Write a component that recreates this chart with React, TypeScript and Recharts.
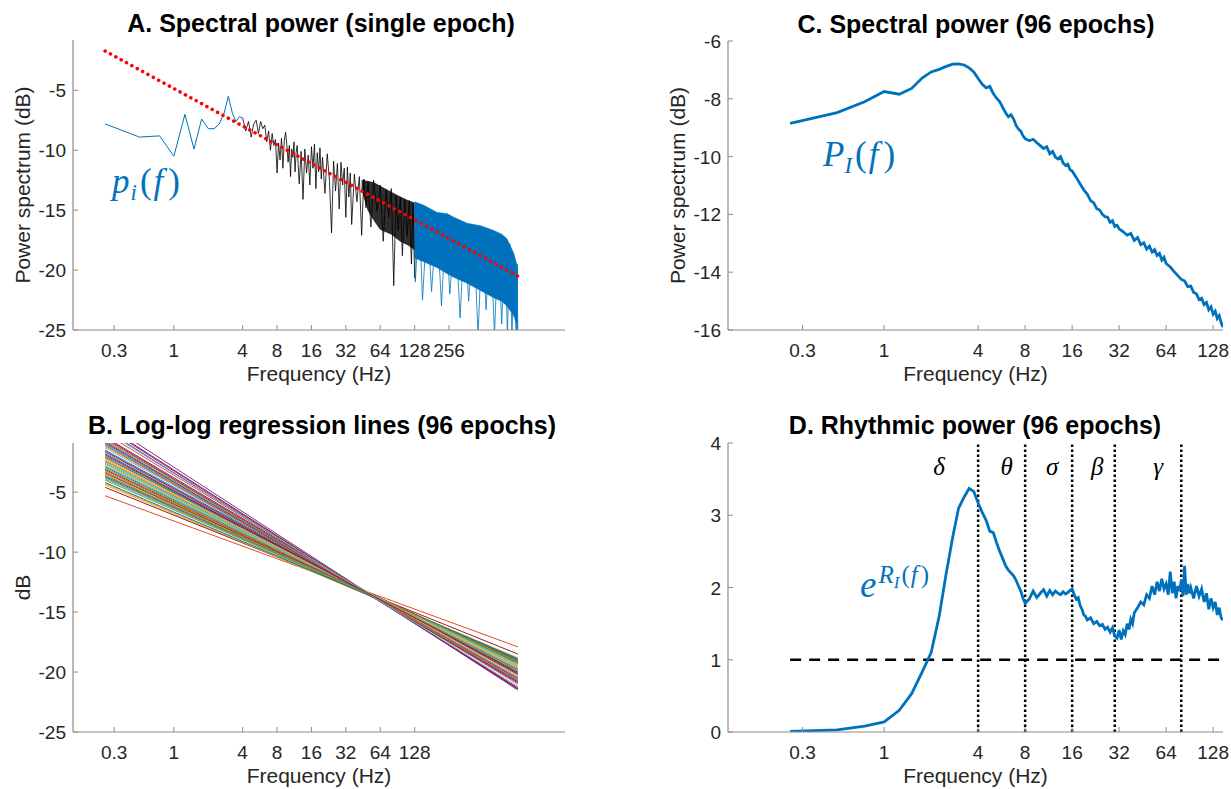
import React from 'react';
import { ComposedChart, Line, Area, XAxis, YAxis, ReferenceLine, ReferenceDot } from 'recharts';

// ---- panel A: one epoch spectrum (Hz, dB) ----
const epochLow: [number, number][] = [
  [0.25, -7.8], [0.5, -8.9], [0.75, -8.8], [1, -10.5], [1.25, -7.0], [1.5, -9.9], [1.75, -7.4],
  [2, -8.2], [2.25, -8.2], [2.5, -7.8], [2.75, -6.9], [3, -5.5], [3.25, -6.9], [3.5, -7.6],
  [3.75, -7.2], [4, -7.3],
];

const epochMid: [number, number][] = [
  [4, -7.3], [4.25, -8.4], [4.5, -7.6], [4.75, -8.9], [5, -7.8], [5.25, -7.5], [5.5, -8.6],
  [5.75, -7.6], [6, -8.2], [6.25, -7.9], [6.5, -9.3], [6.75, -8.4], [7, -10.0], [7.25, -8.6],
  [7.5, -9.6], [7.75, -9.1], [8, -11.9], [8.25, -9.4], [8.5, -10.8], [8.75, -9.0], [9, -11.5],
  [9.25, -9.2], [9.5, -8.5], [9.75, -9.6], [10, -11.0], [10.25, -9.6], [10.5, -12.2], [10.75, -9.9],
  [11, -10.6], [11.25, -9.3], [11.5, -11.8], [11.75, -10.2], [12, -9.6], [12.5, -12.8], [13, -10.1],
  [13.5, -14.1], [14, -9.9], [14.5, -11.9], [15, -10.4], [15.5, -12.9], [16, -9.7], [16.5, -11.5],
  [17, -9.5], [17.5, -13.2], [18, -10.2], [18.5, -11.8], [19, -9.8], [19.5, -12.4], [20, -10.6],
  [21, -13.6], [22, -10.3], [23, -12.5], [24, -16.9], [25, -10.9], [26, -13.4], [27, -11.1],
  [28, -14.9], [29, -11.0], [30, -12.9], [31, -11.5], [32, -15.6], [33, -11.4], [34, -13.9],
  [35, -11.9], [36, -16.2], [38, -12.0], [40, -14.3], [42, -12.2], [44, -17.1], [46, -12.4],
  [48, -14.8], [50, -12.6], [53, -16.4], [56, -12.5], [60, -15.1], [64, -12.9], [68, -17.6],
  [72, -13.3], [76, -15.6], [80, -13.2], [84, -21.3], [88, -13.8], [92, -16.7], [96, -13.9],
  [100, -18.8], [105, -14.1], [110, -17.2], [115, -14.2], [120, -19.5], [124, -14.5], [128, -20.7],
];

// dense part of the spectrum: [Hz, low dB, high dB]
const epochBlackBand: [number, number, number][] = [
  [44, -13.2, -12.5], [50, -15.0, -12.6], [56, -15.8, -12.7], [64, -16.6, -13.0], [80, -17.0, -13.5],
  [96, -17.6, -13.9], [112, -17.9, -14.2], [128, -18.3, -14.4],
];

const epochBlueBand: [number, number, number][] = [
  [128, -19.0, -14.3], [154, -19.3, -14.6], [202, -19.8, -15.2], [247, -20.3, -15.3],
  [282, -20.6, -15.6], [369, -21.1, -16.1], [483, -21.7, -16.3], [630, -22.3, -16.7],
  [740, -22.6, -17.0], [824, -23.0, -17.4], [942, -23.8, -18.6], [1000, -24.5, -19.5],
  [1024, -25.5, -20.0],
];

const epochBlueSpikes: [number, number][] = [
  [128, -14.4], [130, -21.0], [140, -15.0], [150, -22.5], [165, -15.5], [180, -21.8], [200, -15.4],
  [220, -23.0], [240, -15.8], [260, -22.0], [290, -16.0], [320, -24.0], [350, -16.3], [380, -22.6],
  [420, -16.4], [460, -25.5], [500, -16.6], [540, -23.3], [590, -16.8], [640, -25.5], [690, -17.0],
  [740, -24.5], [790, -17.3], [830, -25.5], [870, -17.8], [910, -25.5], [950, -18.8], [990, -25.5],
  [1010, -19.5], [1024, -25.5],
];

const epochFit: [number, number][] = [[0.25, -1.72], [1024, -20.5]];

// ---- panel B: regression lines, value at 0.25 Hz and at 1024 Hz ----
const fitStart = [
  -1.5, -5.3, -4.4, 0.4, -2.6, -3.9, -4.6, -2.9, -0.6, -3.5, -0.9, -2.0, -1.3, -3.1, -1.0, -3.8, -2.2,
  0.8, -3.3, -1.7, -0.4, -3.6, -2.4, -4.3, -0.5, -3.0, -2.5, -1.6, -3.7, -0.1, -2.7, -1.8, -4.0, -1.0,
  -3.4, -2.1, -3.2, -1.2, 0.2, -0.7, -2.8, 0.5, -4.2, -1.1, -2.3, -0.8, -3.6, 0.1, -1.9,
];
const fitEnd = [
  -20.1, -17.9, -18.8, -21.4, -19.5, -19.0, -18.5, -19.3, -20.7, -19.1, -20.6, -19.9, -20.2, -19.2,
  -20.5, -19.0, -19.8, -21.5, -19.2, -20.0, -20.8, -19.1, -19.7, -18.9, -20.9, -19.3, -19.6, -20.2,
  -19.0, -21.0, -19.5, -20.1, -18.9, -20.4, -19.1, -19.8, -19.2, -20.3, -21.3, -20.7, -19.4, -21.4,
  -18.9, -20.5, -19.7, -20.8, -19.1, -21.2, -20.0,
];
const fitFreqs = [0.25, 1024];
const matlabColors = ['#0072BD', '#D95319', '#EDB120', '#7E2F8E', '#77AC30', '#4DBEEE', '#A2142F'];

// ---- panel C: mean spectrum over 96 epochs ----
const meanSpectrum: [number, number][] = [
  [0.25, -8.85], [0.5, -8.48], [0.75, -8.1], [1, -7.75], [1.25, -7.84], [1.5, -7.64], [1.75, -7.28],
  [2, -7.07], [2.25, -6.98], [2.5, -6.88], [2.75, -6.8], [3, -6.79], [3.25, -6.83], [3.5, -6.93],
  [3.75, -7.07], [4, -7.3], [4.25, -7.5], [4.5, -7.62], [4.75, -7.57], [5, -7.82], [5.25, -7.98],
  [5.5, -8.1], [5.75, -8.3], [6, -8.48], [6.25, -8.62], [6.5, -8.55], [6.75, -8.7], [7, -8.92],
  [7.25, -9.05], [7.5, -9.12], [7.75, -9.28], [8, -9.38], [8.5, -9.45], [9, -9.4], [9.5, -9.52],
  [10, -9.62], [10.5, -9.72], [11, -9.66], [11.5, -9.9], [12, -9.82], [12.5, -10.02], [13, -10.08],
  [13.5, -10.0], [14, -10.22], [14.5, -10.3], [15, -10.26], [15.5, -10.45], [16, -10.5], [17, -10.72],
  [18, -10.95], [19, -11.15], [20, -11.3], [21, -11.52], [22, -11.6], [23, -11.8], [24, -11.85],
  [25, -12.0], [26, -12.08], [27, -12.1], [28, -12.28], [29, -12.22], [30, -12.42], [31, -12.38],
  [32, -12.5], [34, -12.6], [36, -12.72], [38, -12.66], [40, -12.9], [42, -12.8], [44, -13.05],
  [46, -12.98], [48, -13.2], [50, -13.1], [52, -13.3], [54, -13.22], [56, -13.42], [58, -13.35],
  [60, -13.58], [62, -13.48], [64, -13.7], [68, -13.82], [72, -13.98], [76, -14.12], [80, -14.25],
  [84, -14.3], [88, -14.5], [92, -14.48], [96, -14.7], [100, -14.75], [104, -14.95], [108, -14.9],
  [112, -15.12], [116, -15.05], [120, -15.3], [124, -15.2], [128, -15.45], [132, -15.35],
  [136, -15.6], [140, -15.5], [144, -15.75], [148, -15.9],
];

// ---- panel D: rhythmic power ----
const rhythmicPower: [number, number][] = [
  [0.25, 0.01], [0.5, 0.03], [0.75, 0.08], [1, 0.14], [1.25, 0.3], [1.5, 0.53], [1.75, 0.83],
  [2, 1.1], [2.25, 1.6], [2.5, 2.2], [2.75, 2.7], [3, 3.1], [3.25, 3.25], [3.5, 3.37], [3.75, 3.33],
  [4, 3.17], [4.25, 3.04], [4.5, 2.93], [4.75, 2.78], [5, 2.76], [5.25, 2.62], [5.5, 2.5],
  [5.75, 2.4], [6, 2.3], [6.25, 2.24], [6.5, 2.2], [6.75, 2.16], [7, 2.1], [7.25, 2.02], [7.5, 1.95],
  [7.75, 1.85], [8, 1.78], [8.5, 1.84], [9, 1.95], [9.5, 1.86], [10, 1.92], [10.5, 1.97], [11, 1.88],
  [11.5, 1.96], [12, 1.9], [12.5, 1.95], [13, 1.92], [13.5, 1.9], [14, 1.94], [14.5, 1.91],
  [15, 1.93], [15.5, 1.96], [16, 1.98], [16.5, 1.9], [17, 1.84], [17.5, 1.86], [18, 1.75],
  [18.5, 1.7], [19, 1.62], [19.5, 1.6], [20, 1.55], [21, 1.58], [22, 1.5], [23, 1.53], [24, 1.47],
  [25, 1.49], [26, 1.42], [27, 1.45], [28, 1.38], [29, 1.44], [30, 1.33], [31, 1.3], [32, 1.41],
  [33, 1.28], [34, 1.4], [35, 1.35], [36, 1.5], [37, 1.42], [38, 1.56], [39, 1.5], [40, 1.65],
  [42, 1.72], [44, 1.8], [46, 1.76], [48, 1.9], [50, 1.85], [52, 2.02], [54, 1.9], [56, 2.08],
  [58, 1.95], [60, 2.12], [62, 1.98], [64, 2.05], [66, 1.9], [68, 2.22], [70, 1.92], [72, 2.08],
  [74, 1.85], [76, 2.02], [78, 1.95], [80, 2.1], [82, 1.88], [84, 2.3], [86, 1.9], [88, 2.05],
  [90, 1.92], [92, 2.0], [96, 1.85], [100, 2.02], [104, 1.88], [108, 1.98], [112, 1.8], [116, 1.92],
  [120, 1.7], [124, 1.85], [128, 1.72], [132, 1.8], [136, 1.62], [140, 1.72], [144, 1.58], [148, 1.55],
];
const baselineOne: [number, number][] = [[0.25, 1], [148, 1]];
const bandEdges = [4, 8, 16, 30, 80];
const bandNames = ['δ', 'θ', 'σ', 'β', 'γ'];
const bandLabelFreqs = [2.25, 6.1, 11.9, 23.2, 57];
const bandLabelLevel = 3.68;

// ---- axes ----
const ticksA = [0.3, 1, 4, 8, 16, 32, 64, 128, 256];
const ticksB = [0.3, 1, 4, 8, 16, 32, 64, 128];
const ticksCD = [0.3, 1, 4, 8, 16, 32, 64, 128];
const dbTicksAB = [-25, -20, -15, -10, -5];
const dbTicksC = [-16, -14, -12, -10, -8, -6];
const rhythmTicks = [0, 1, 2, 3, 4];

const toPts = (rows: [number, number][]) => rows.map(([f, v]) => ({ f, v }));
const toBand = (rows: [number, number, number][]) => rows.map(([f, lo, hi]) => ({ f, band: [lo, hi] }));

const BLUE = '#0072BD';
const AXIS = '#8c8c8c';
const TEXT = '#262626';
const SANS = '"Liberation Sans", Arial, Helvetica, sans-serif';
const SERIF = '"Liberation Serif", "Times New Roman", serif';

const xTick = (p: any) => (
  <g>
    <line x1={p.x} x2={p.x} y1={p.y} y2={p.y - 5} stroke={AXIS} />
    <text x={p.x} y={p.y + 27} textAnchor="middle" fontSize={19} fill={TEXT} fontFamily={SANS}>
      {p.payload.value}
    </text>
  </g>
);

const yTick = (p: any) => (
  <g>
    <line x1={p.x} x2={p.x + 5} y1={p.y} y2={p.y} stroke={AXIS} />
    <text x={p.x - 7} y={p.y + 7} textAnchor="end" fontSize={19} fill={TEXT} fontFamily={SANS}>
      {p.payload.value}
    </text>
  </g>
);

const freqAxis = (domain: [number, number], ticks: number[]) => (
  <XAxis
    type="number"
    dataKey="f"
    scale="log"
    domain={domain}
    ticks={ticks}
    interval={0}
    allowDataOverflow
    height={58}
    tickSize={0}
    tickMargin={0}
    tickLine={false}
    tick={xTick}
    axisLine={{ stroke: AXIS, strokeWidth: 1.2 }}
    label={{ value: 'Frequency (Hz)', position: 'insideBottom', offset: 7, fontSize: 21, fill: TEXT }}
  />
);

const valueAxis = (domain: [number, number], ticks: number[], label?: string) => (
  <YAxis
    type="number"
    domain={domain}
    ticks={ticks}
    interval={0}
    allowDataOverflow
    width={73}
    tickSize={0}
    tickMargin={0}
    tickLine={false}
    tick={yTick}
    axisLine={{ stroke: AXIS, strokeWidth: 1.2 }}
    label={
      label
        ? { value: label, angle: -90, position: 'insideLeft', offset: 23, fontSize: 21, fill: TEXT, style: { textAnchor: 'middle' } }
        : undefined
    }
  />
);

const Titles = () => (
  <svg width={1231} height={789} style={{ position: 'absolute', left: 0, top: 0, pointerEvents: 'none' }}>
    <g fontFamily={SANS} fontWeight="bold" fontSize={25} fill="#000" textAnchor="middle">
      <text x={321} y={32}>A. Spectral power (single epoch)</text>
      <text x={322} y={434}>B. Log-log regression lines (96 epochs)</text>
      <text x={976} y={33}>C. Spectral power (96 epochs)</text>
      <text x={975} y={434}>D. Rhythmic power (96 epochs)</text>
    </g>
    <g fontFamily={SERIF} fill={BLUE}>
      <text x={112} y={193} fontSize={35}>
        <tspan fontStyle="italic">p</tspan>
        <tspan fontStyle="italic" fontSize={23} dy={7} dx={1}>i</tspan>
        <tspan dy={-7} dx={3}>(</tspan>
        <tspan fontStyle="italic" dx={2}>f</tspan>
        <tspan dx={5}>)</tspan>
      </text>
      <text x={823} y={166} fontSize={35}>
        <tspan fontStyle="italic">P</tspan>
        <tspan fontStyle="italic" fontSize={23} dy={7}>I</tspan>
        <tspan dy={-7} dx={3}>(</tspan>
        <tspan fontStyle="italic" dx={2}>f</tspan>
        <tspan dx={5}>)</tspan>
      </text>
      <text x={860} y={597} fontSize={37}>
        <tspan fontStyle="italic">e</tspan>
        <tspan fontStyle="italic" fontSize={25} dy={-14} dx={2}>R</tspan>
        <tspan fontStyle="italic" fontSize={17} dy={5}>I</tspan>
        <tspan fontSize={25} dy={-5} dx={2}>(</tspan>
        <tspan fontStyle="italic" fontSize={25} dx={1}>f</tspan>
        <tspan fontSize={25} dx={3}>)</tspan>
      </text>
    </g>
  </svg>
);

export default function App() {
  return (
    <div style={{ position: 'absolute', left: 0, top: 0, width: 1231, height: 789, background: '#fff', fontFamily: SANS }}>
      {/* A */}
      <div style={{ position: 'absolute', left: 0, top: 0 }}>
        <ComposedChart width={600} height={388} margin={{ top: 40, right: 35, bottom: 0, left: 0 }}>
          {freqAxis([0.131, 2650], ticksA)}
          {valueAxis([-25, -0.8], dbTicksAB, 'Power spectrum (dB)')}
          <Line data={toPts(epochLow)} dataKey="v" type="linear" stroke={BLUE} strokeWidth={1} dot={false} isAnimationActive={false} />
          <Area data={toBand(epochBlueBand)} dataKey="band" type="linear" stroke={BLUE} strokeWidth={0.6} fill={BLUE} fillOpacity={1} isAnimationActive={false} />
          <Line data={toPts(epochBlueSpikes)} dataKey="v" type="linear" stroke={BLUE} strokeWidth={0.8} dot={false} isAnimationActive={false} />
          <Area data={toBand(epochBlackBand)} dataKey="band" type="linear" stroke="#000" strokeWidth={0.6} fill="#000" fillOpacity={0.82} isAnimationActive={false} />
          <Line data={toPts(epochMid)} dataKey="v" type="linear" stroke="#000" strokeWidth={0.8} dot={false} isAnimationActive={false} />
          <Line data={toPts(epochFit)} dataKey="v" type="linear" stroke="#ff0000" strokeWidth={3.5} strokeDasharray="0.1 6" strokeLinecap="round" dot={false} isAnimationActive={false} />
        </ComposedChart>
      </div>

      {/* B */}
      <div style={{ position: 'absolute', left: 0, top: 402 }}>
        <ComposedChart width={600} height={388} margin={{ top: 41, right: 35, bottom: 0, left: 0 }}>
          {freqAxis([0.131, 2650], ticksB)}
          {valueAxis([-25, -0.9], dbTicksAB, 'dB')}
          {fitStart.map((s, i) => (
            <Line
              key={i}
              data={[{ f: fitFreqs[0], v: s }, { f: fitFreqs[1], v: fitEnd[i] }]}
              dataKey="v"
              type="linear"
              stroke={matlabColors[i % matlabColors.length]}
              strokeWidth={1}
              dot={false}
              isAnimationActive={false}
            />
          ))}
        </ComposedChart>
      </div>

      {/* C */}
      <div style={{ position: 'absolute', left: 655, top: 0 }}>
        <ComposedChart width={600} height={388} margin={{ top: 41, right: 32, bottom: 0, left: 0 }}>
          {freqAxis([0.1, 148], ticksCD)}
          {valueAxis([-16, -6], dbTicksC, 'Power spectrum (dB)')}
          <Line data={toPts(meanSpectrum)} dataKey="v" type="linear" stroke={BLUE} strokeWidth={2.8} dot={false} isAnimationActive={false} />
        </ComposedChart>
      </div>

      {/* D */}
      <div style={{ position: 'absolute', left: 655, top: 402 }}>
        <ComposedChart width={600} height={388} margin={{ top: 41, right: 32, bottom: 0, left: 0 }}>
          {freqAxis([0.1, 148], ticksCD)}
          {valueAxis([0, 4], rhythmTicks)}
          {bandEdges.map((f) => (
            <ReferenceLine key={f} x={f} stroke="#000" strokeWidth={2.5} strokeDasharray="2.5 2.5" />
          ))}
          <Line data={toPts(baselineOne)} dataKey="v" type="linear" stroke="#000" strokeWidth={2.5} strokeDasharray="11 8" dot={false} isAnimationActive={false} />
          <Line data={toPts(rhythmicPower)} dataKey="v" type="linear" stroke={BLUE} strokeWidth={2.8} dot={false} isAnimationActive={false} />
          {bandNames.map((name, i) => (
            <ReferenceDot
              key={name}
              x={bandLabelFreqs[i]}
              y={bandLabelLevel}
              r={0}
              fill="none"
              stroke="none"
              label={{ value: name, position: 'center', fontSize: 25, fontStyle: 'italic', fontFamily: SERIF, fill: '#000' }}
            />
          ))}
        </ComposedChart>
      </div>

      <Titles />
    </div>
  );
}
